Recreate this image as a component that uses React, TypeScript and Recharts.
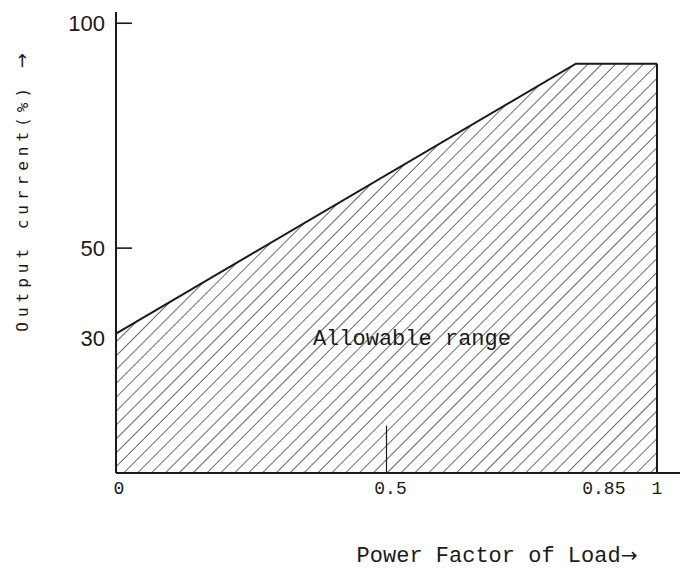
import { AreaChart, Area, XAxis, YAxis, ReferenceLine, ReferenceDot } from 'recharts'

const powerFactor = [0, 0.85, 1]
const outputCurrent = [31, 91, 91]
const xTicks = [0, 0.5, 0.85, 1]
const yTicks = [30, 50, 100]

const data = powerFactor.map((pf, i) => ({ pf, current: outputCurrent[i] }))

const INK = '#1a1a1a'
const MONO = '"Liberation Mono", "DejaVu Sans Mono", monospace'

function YTick(props: any) {
  const { x, y, payload } = props
  const axisX = x + 11
  return (
    <g>
      {payload.value !== 30 && <line x1={axisX} y1={y} x2={axisX + 16} y2={y} stroke={INK} strokeWidth={1.6} />}
      <text x={x} y={y} dy={8} textAnchor="end" fontSize={22} fontFamily='"Liberation Sans", Arial, sans-serif' fill={INK}>
        {payload.value}
      </text>
    </g>
  )
}

function XTick(props: any) {
  const { x, y, payload } = props
  const shift = payload.value === 0.85 ? 28 : payload.value === 0 ? 3 : payload.value === 0.5 ? 4 : 0
  return (
    <text x={x + shift} y={y} dy={15} textAnchor="middle" fontSize={18} fontFamily={MONO} fill={INK}>
      {payload.value}
    </text>
  )
}

export default function App() {
  return (
    <div style={{ position: 'absolute', left: 0, top: 0, width: 680, height: 572, background: '#fff' }}>
      <AreaChart width={680} height={572} data={data} margin={{ top: 12, right: 0, left: 0, bottom: 0 }}>
        <defs>
          <pattern id="hatch" width="9.8" height="9.8" patternUnits="userSpaceOnUse" patternTransform="rotate(45)">
            <line x1="0" y1="0" x2="0" y2="9.8" stroke={INK} strokeWidth={1.3} />
          </pattern>
        </defs>
        <XAxis
          dataKey="pf"
          type="number"
          domain={[0, 1.0425]}
          ticks={xTicks}
          tick={<XTick />}
          tickLine={false}
          tickSize={0}
          tickMargin={6}
          height={99}
          axisLine={{ stroke: INK, strokeWidth: 2 }}
        />
        <YAxis
          type="number"
          domain={[0, 102.5]}
          ticks={yTicks}
          tick={<YTick />}
          tickLine={false}
          tickSize={0}
          tickMargin={11}
          width={116}
          axisLine={{ stroke: INK, strokeWidth: 2 }}
        />
        <Area
          type="linear"
          dataKey="current"
          stroke={INK}
          strokeWidth={2}
          fill="url(#hatch)"
          fillOpacity={1}
          isAnimationActive={false}
        />
        <ReferenceLine segment={[{ x: 1, y: 0 }, { x: 1, y: 91 }]} stroke={INK} strokeWidth={2} />
        <ReferenceLine segment={[{ x: 0.5, y: 0 }, { x: 0.5, y: 10.5 }]} stroke={INK} strokeWidth={1.2} />
        <ReferenceDot
          x={0.547}
          y={30}
          r={0}
          shape={(p: any) => (
            <text x={p.cx} y={p.cy} dy={7} textAnchor="middle" fontSize={22} fontFamily={MONO} fill={INK}>
              Allowable range
            </text>
          )}
        />
      </AreaChart>
      <div
        style={{
          position: 'absolute',
          left: 497,
          top: 556,
          transform: 'translate(-50%, -50%)',
          whiteSpace: 'nowrap',
          fontFamily: MONO,
          fontSize: 22,
          color: INK,
        }}
      >
        Power Factor of Load<span style={{ fontFamily: '"DejaVu Sans", sans-serif', fontSize: 20 }}>→</span>
      </div>
      <div
        style={{
          position: 'absolute',
          left: 21,
          top: 190,
          transform: 'translate(-50%, -50%) rotate(-90deg)',
          whiteSpace: 'nowrap',
          fontFamily: '"DejaVu Sans Mono", monospace',
          fontSize: 16,
          letterSpacing: 5,
          color: INK,
        }}
      >
        Output current(%) <span style={{ fontFamily: '"DejaVu Sans", sans-serif', fontSize: 18 }}>→</span>
      </div>
    </div>
  )
}
